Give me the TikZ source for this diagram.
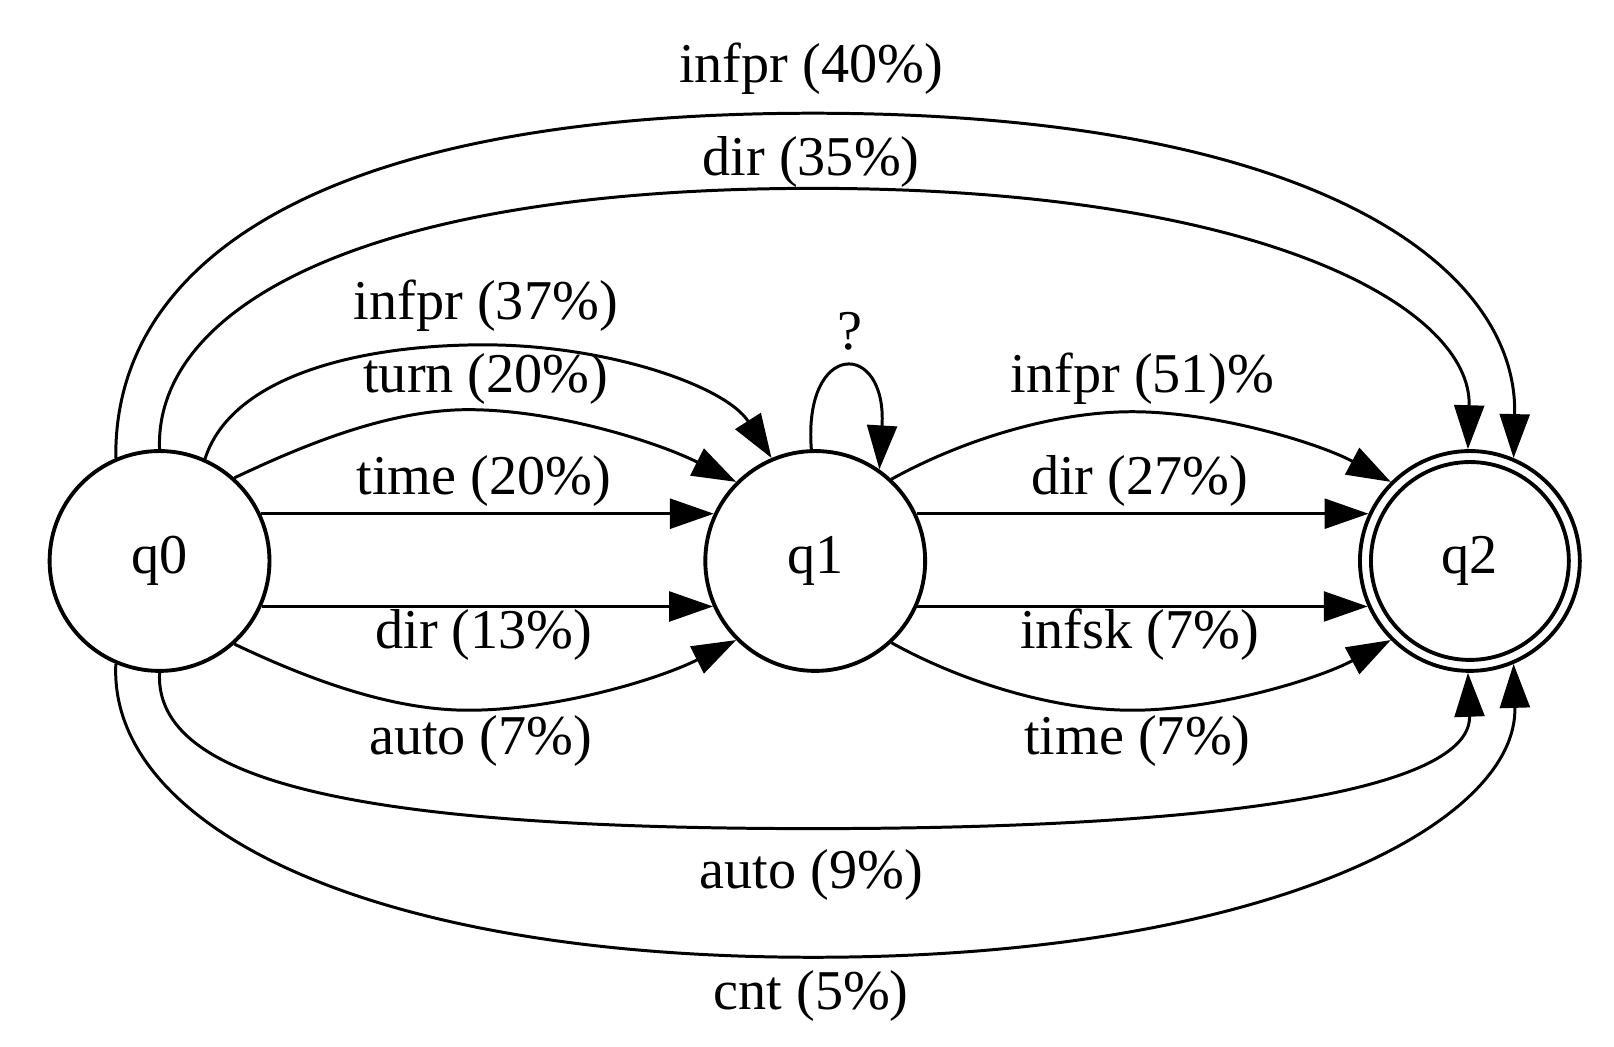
\documentclass[tikz,border=0pt]{standalone}
\usepackage{fontspec}
\setmainfont{Liberation Serif}
\usetikzlibrary{arrows.meta}
\begin{document}
\begin{tikzpicture}[x=0.010293cm,y=-0.010293cm,
  state/.style={circle,draw,line width=1.1pt,minimum size=2.2cm,inner sep=0pt,font=\fontsize{16}{18}\selectfont},
  edge/.style={line width=0.85pt,-{Triangle[length=12.5pt,width=8.5pt]}},
  lbl/.style={font=\fontsize{16}{18}\selectfont,inner sep=0pt}]
\useasboundingbox (0,0) rectangle (1568,1017);
\node[state] (q0) at (155,545) {q0};
\node[state] (q1) at (792,545) {q1};
\node[state] (q2) at (1428,545) {q2};
\draw[line width=1.1pt] (q2.center) circle (0.99cm);
% q0 -> q1
\draw[edge] (q0.66) .. controls (225,365) and (350,335) .. (470,335) .. controls (590,335) and (705,375) .. (q1.113);
\draw[edge] (q0.48) .. controls (300,430) and (380,398) .. (455,398) .. controls (540,398) and (640,430) .. (q1.135);
\draw[edge] (q0.25) -- (q1.155);
\draw[edge] (q0.-24) -- (q1.204);
\draw[edge] (q0.-48) .. controls (300,660) and (380,690) .. (455,690) .. controls (540,690) and (640,660) .. (q1.-135);
% self loop
\draw[edge] (q1.92) .. controls (780,330) and (862,330) .. (q1.55);
% q1 -> q2
\draw[edge] (q1.47) .. controls (930,430) and (1020,400) .. (1100,400) .. controls (1180,400) and (1280,430) .. (q2.135);
\draw[edge] (q1.25) -- (q2.155);
\draw[edge] (q1.-24) -- (q2.204);
\draw[edge] (q1.-47) .. controls (930,660) and (1020,690) .. (1100,690) .. controls (1180,690) and (1280,660) .. (q2.-135);
% q0 -> q2
\draw[edge] (q0.113) .. controls (110,260) and (300,110) .. (790,110) .. controls (1280,110) and (1475,260) .. (q2.67);
\draw[edge] (q0.90) .. controls (150,300) and (350,183) .. (790,183) .. controls (1230,183) and (1430,300) .. (q2.91);
\draw[edge] (q0.-90) .. controls (150,760) and (350,805) .. (790,805) .. controls (1230,805) and (1430,760) .. (q2.-91);
\draw[edge] (q0.-113) .. controls (105,800) and (350,930) .. (790,930) .. controls (1230,930) and (1475,800) .. (q2.-67);
% labels
\node[lbl] (l1) at (472,297) {infpr (37\%)};
\node[lbl] (l2) at (472,368) {turn (20\%)};
\node[lbl] (l3) at (470,467) {time (20\%)};
\node[lbl] (l4) at (470,617) {dir (13\%)};
\node[lbl] (l5) at (467,720) {auto (7\%)};
\node[lbl] (l6) at (826,322) {?};
\node[lbl] (l7) at (1110,368) {infpr (51)\%};
\node[lbl] (l8) at (1107,467) {dir (27\%)};
\node[lbl] (l9) at (1107,617) {infsk (7\%)};
\node[lbl] (l10) at (1105,720) {time (7\%)};
\node[lbl] (l11) at (788,67) {infpr (40\%)};
\node[lbl] (l12) at (788,157) {dir (35\%)};
\node[lbl] (l13) at (788,850) {auto (9\%)};
\node[lbl] (l14) at (788,968) {cnt (5\%)};
\end{tikzpicture}
\end{document}
